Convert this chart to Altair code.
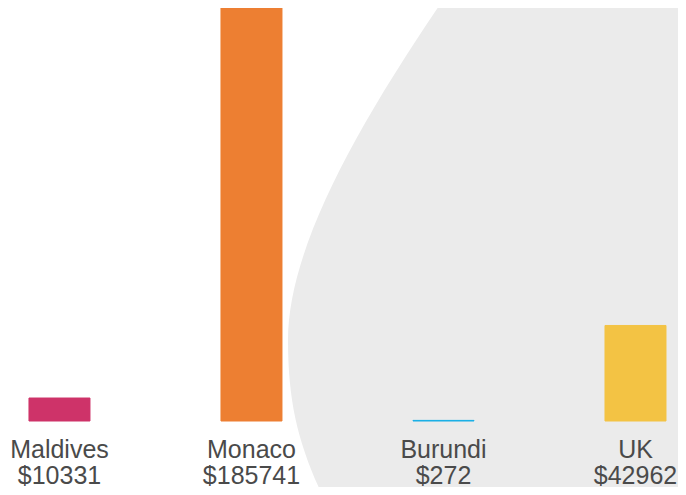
import altair as alt
import pandas as pd

countries = ["Maldives", "Monaco", "Burundi", "UK"]
gdp_per_capita = [10331, 185741, 272, 42962]
bar_colors = ["#CE3369", "#ED7F32", "#16AEE6", "#F3C344"]
labels = [f"{c}|${v}" for c, v in zip(countries, gdp_per_capita)]

df = pd.DataFrame({"country": countries, "gdp": gdp_per_capita, "label": labels})

# decorative grey background blob (custom symbol path, unit coordinates)
blob_path = (
    "M -0.4433 -0.9667 L -0.5233 -0.8333 "
    "C -0.818 -0.4 -1.04 0 -1.04 0.3 "
    "C -1.04 0.5667 -0.9833 0.7167 -0.85 0.9667 "
    "L 0.6667 0.9667 L 0.6667 -0.9667 Z"
)

blob = alt.Chart(pd.DataFrame({"k": [0]})).mark_point(
    shape=blob_path, filled=True, size=360000, color="#EBEBEB",
    opacity=1, strokeWidth=0
).encode(x=alt.value(592), y=alt.value(242))

color_scale = alt.Scale(domain=labels, range=bar_colors)

bars = alt.Chart(df).mark_bar(strokeWidth=1).encode(
    x=alt.X(
        "label:N", sort=labels,
        scale=alt.Scale(paddingInner=0.6823, paddingOuter=0.0859, align=0.636),
        axis=alt.Axis(
            title=None, domain=False, ticks=False, labelAngle=0,
            labelExpr="split(datum.label, '|')",
            labelFont="Liberation Sans", labelFontSize=25, labelColor="#4A4A4A",
            labelPadding=16, labelLineHeight=26, labelBaseline="top",
            labelOverlap=False, labelLimit=0, zindex=1,
        ),
    ),
    y=alt.Y("gdp:Q", scale=alt.Scale(domain=[0, 185741], nice=False, zero=True), axis=None),
    color=alt.Color("label:N", scale=color_scale, legend=None),
    stroke=alt.Color("label:N", scale=color_scale, legend=None),
)

chart = alt.layer(blob, bars).properties(
    width=670, height=413,
    autosize=alt.AutoSizeParams(type="none"),
    padding={"left": 0, "top": 0, "right": 0, "bottom": 66},
).configure(
    background="white",
    view=alt.ViewConfig(stroke=None, strokeWidth=0),
)

chart.save("out.html", embed_options={"renderer": "svg", "actions": False})
